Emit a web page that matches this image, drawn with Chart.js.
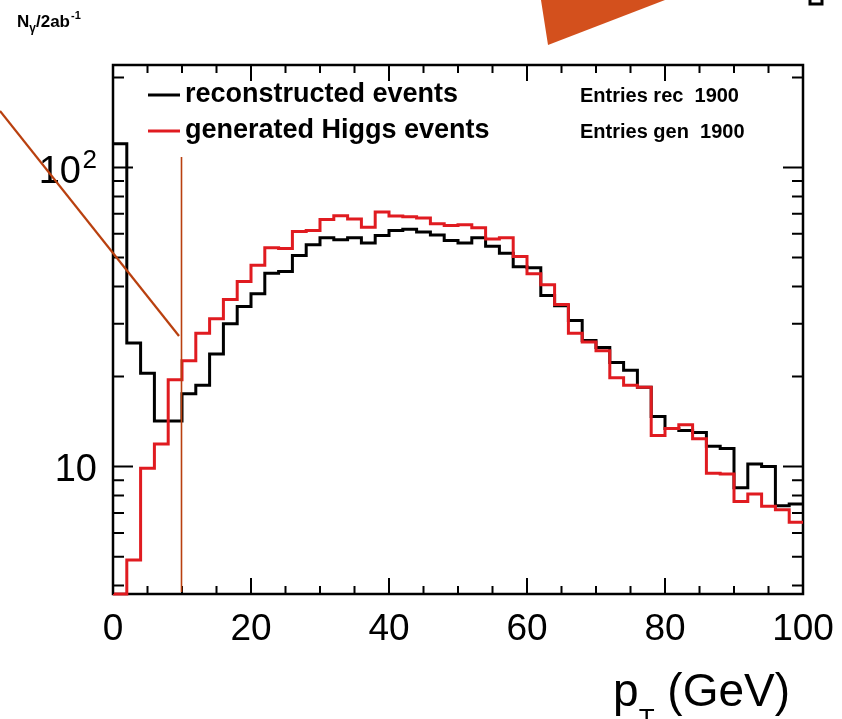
<!DOCTYPE html>
<html>
<head>
<meta charset="utf-8">
<script src="https://cdn.jsdelivr.net/npm/chart.js@4.4.1/dist/chart.umd.min.js"></script>
<style>
  html, body { margin: 0; padding: 0; background: #fff; }
  #wrap { position: relative; width: 842px; height: 719px; }
</style>
</head>
<body>
<div id="wrap"><canvas id="myChart"></canvas></div>
<script>
// bin lower edges (GeV), last entry closes the final bin
const binEdges = [0, 2, 4, 6, 8, 10, 12, 14, 16, 18, 20, 22, 24, 26, 28, 30, 32, 34, 36, 38,
                  40, 42, 44, 46, 48, 50, 52, 54, 56, 58, 60, 62, 64, 66, 68, 70, 72, 74, 76, 78,
                  80, 82, 84, 86, 88, 90, 92, 94, 96, 98, 100];

// reconstructed events per 2 GeV bin
const recEvents = [120, 25.9, 20.5, 14.2, 14.2, 17.5, 18.7, 23.8, 30.0, 34.3,
                   37.8, 44.3, 44.9, 50.8, 55.1, 58.2, 57.3, 58.2, 55.9, 59.2,
                   61.6, 62.1, 60.8, 59.5, 57.0, 55.9, 58.2, 54.5, 51.7, 46.6,
                   46.2, 37.3, 34.5, 30.8, 26.4, 25.0, 22.3, 21.0, 18.4, 14.7,
                   13.4, 13.2, 13.0, 11.7, 11.5, 8.5, 10.2, 10.0, 7.4, 7.5];

// generated Higgs events per 2 GeV bin
const genEvents = [3.75, 4.87, 9.87, 11.9, 19.5, 22.6, 27.9, 31.2, 36.2, 41.6,
                   47.1, 53.9, 53.6, 61.1, 61.6, 67.0, 68.9, 67.3, 63.1, 71.0,
                   68.8, 68.4, 67.8, 64.8, 64.0, 64.3, 62.9, 57.7, 58.2, 50.4,
                   44.1, 40.5, 34.8, 27.9, 26.1, 24.4, 19.8, 18.7, 18.4, 12.7,
                   13.4, 13.8, 12.4, 9.5, 9.45, 7.65, 8.1, 7.37, 7.17, 6.51];

const xMajorTicks = [0, 20, 40, 60, 80, 100];
const xMinorTicks = [5, 10, 15, 25, 30, 35, 45, 50, 55, 65, 70, 75, 85, 90, 95];
const yMajorTicks = [10, 100];
const yMinorTicks = [4, 5, 6, 7, 8, 9, 20, 30, 40, 50, 60, 70, 80, 90, 200];

const legendLabels = ['reconstructed events', 'generated Higgs events'];
const entryLabels = ['Entries rec  1900', 'Entries gen  1900'];

const RED = '#e01b20';
const ANNOT = '#b9400f';
const FONT = '"Liberation Sans", Arial, Helvetica, sans-serif';

function toSteps(values) {
    const pts = values.map((v, i) => ({ x: binEdges[i], y: v }));
    pts.push({ x: binEdges[values.length], y: values[values.length - 1] });
    return pts;
}

const rootStyle = {
    id: 'rootStyle',
    beforeDatasetsDraw(chart) {
        const { ctx, chartArea: a } = chart;
        ctx.save();
        ctx.strokeStyle = '#000';
        ctx.lineWidth = 2.5;
        ctx.strokeRect(a.left, a.top, a.right - a.left, a.bottom - a.top);
        ctx.restore();
    },
    afterDatasetsDraw(chart) {
        const { ctx, chartArea: a, scales } = chart;
        const xs = scales.x, ys = scales.y;
        ctx.save();
        ctx.strokeStyle = '#000';
        ctx.lineWidth = 2;
        ctx.beginPath();
        const xTick = (v, len) => {
            const px = xs.getPixelForValue(v);
            ctx.moveTo(px, a.bottom); ctx.lineTo(px, a.bottom - len);
            ctx.moveTo(px, a.top); ctx.lineTo(px, a.top + len);
        };
        const yTick = (v, len) => {
            const py = ys.getPixelForValue(v);
            ctx.moveTo(a.left, py); ctx.lineTo(a.left + len, py);
            ctx.moveTo(a.right, py); ctx.lineTo(a.right - len, py);
        };
        xMajorTicks.forEach(v => xTick(v, 16));
        xMinorTicks.forEach(v => xTick(v, 8));
        yMajorTicks.forEach(v => yTick(v, 20));
        yMinorTicks.forEach(v => yTick(v, 11));
        ctx.stroke();

        // x tick labels
        ctx.fillStyle = '#000';
        ctx.font = '37px ' + FONT;
        ctx.textAlign = 'center';
        ctx.textBaseline = 'alphabetic';
        xMajorTicks.forEach(v => ctx.fillText(String(v), xs.getPixelForValue(v), 640));

        // y tick labels
        ctx.textAlign = 'right';
        ctx.font = '38px ' + FONT;
        ctx.fillText('10', 97, ys.getPixelForValue(10) + 14);
        const y100 = ys.getPixelForValue(100);
        ctx.fillText('10', 81, y100 + 16);
        ctx.font = '26px ' + FONT;
        ctx.fillText('2', 97, y100 + 1);

        // x axis title: p_T (GeV), right aligned
        ctx.textAlign = 'left';
        ctx.font = '46px ' + FONT;
        const tail = ' (GeV)';
        const tailW = ctx.measureText(tail).width;
        const pW = ctx.measureText('p').width;
        ctx.font = '26px ' + FONT;
        const tW = ctx.measureText('T').width;
        let tx = 790 - tailW - tW - pW;
        ctx.font = '46px ' + FONT;
        ctx.fillText('p', tx, 706);
        ctx.font = '26px ' + FONT;
        ctx.fillText('T', tx + pW, 727);
        ctx.font = '46px ' + FONT;
        ctx.fillText(tail, tx + pW + tW, 706);

        // y axis title: N_gamma / 2ab^-1
        ctx.font = 'bold 17px ' + FONT;
        ctx.fillText('N', 17, 27);
        let x = 17 + ctx.measureText('N').width;
        ctx.font = 'bold 12px ' + FONT;
        ctx.fillText('\u03b3', x, 32);
        x += ctx.measureText('\u03b3').width;
        ctx.font = 'bold 17px ' + FONT;
        ctx.fillText('/2ab', x, 27);
        x += ctx.measureText('/2ab').width;
        ctx.font = 'bold 11px ' + FONT;
        ctx.fillText('-1', x + 1, 19);

        // legend
        const colors = [chart.data.datasets[0].borderColor, chart.data.datasets[1].borderColor];
        const rowY = [95, 131];
        ctx.lineWidth = 3;
        legendLabels.forEach((label, i) => {
            ctx.strokeStyle = colors[i];
            ctx.beginPath();
            ctx.moveTo(148, rowY[i]); ctx.lineTo(180, rowY[i]);
            ctx.stroke();
            ctx.fillStyle = '#000';
            ctx.font = 'bold 27px ' + FONT;
            ctx.fillText(label, 185, rowY[i] + 7);
            ctx.font = 'bold 20px ' + FONT;
            ctx.fillText(entryLabels[i], 580, rowY[i] + 7);
        });
        ctx.restore();
    },
    afterDraw(chart) {
        const { ctx } = chart;
        ctx.save();
        // annotation marks drawn over the figure
        ctx.strokeStyle = ANNOT;
        ctx.lineWidth = 2.2;
        ctx.beginPath();
        ctx.moveTo(0, 111); ctx.lineTo(179, 336);
        ctx.stroke();
        ctx.lineWidth = 1.6;
        ctx.beginPath();
        ctx.moveTo(181.5, 157); ctx.lineTo(181.5, 592);
        ctx.stroke();
        ctx.fillStyle = '#d3501d';
        ctx.beginPath();
        ctx.moveTo(541, 0); ctx.lineTo(548, 45); ctx.lineTo(665, 0);
        ctx.closePath();
        ctx.fill();
        // cut-off mark at top right
        ctx.strokeStyle = '#000';
        ctx.lineWidth = 3;
        ctx.beginPath();
        ctx.moveTo(810, 0); ctx.lineTo(810, 4); ctx.lineTo(822, 4); ctx.lineTo(822, 0);
        ctx.stroke();
        ctx.restore();
    }
};

const ctx = document.getElementById('myChart').getContext('2d');
const myChart = new Chart(ctx, {
    type: 'line',
    data: {
        datasets: [{
            label: legendLabels[0],
            data: toSteps(recEvents),
            borderColor: '#000',
            borderWidth: 3,
            stepped: true,
            pointRadius: 0,
            fill: false,
            order: 1,
            clip: false
        }, {
            label: legendLabels[1],
            data: toSteps(genEvents),
            borderColor: RED,
            borderWidth: 3,
            stepped: true,
            pointRadius: 0,
            fill: false,
            order: 0,
            clip: false
        }]
    },
    options: {
        responsive: true,
        maintainAspectRatio: false,
        animation: false,
        devicePixelRatio: 1,
        layout: { padding: { left: 113, right: 39, top: 65, bottom: 125 } },
        scales: {
            x: { type: 'linear', min: 0, max: 100, display: false },
            y: { type: 'logarithmic', min: 3.75, max: 220, display: false }
        },
        plugins: {
            legend: { display: false },
            tooltip: { enabled: false }
        }
    },
    plugins: [rootStyle]
});
</script>
</body>
</html>
